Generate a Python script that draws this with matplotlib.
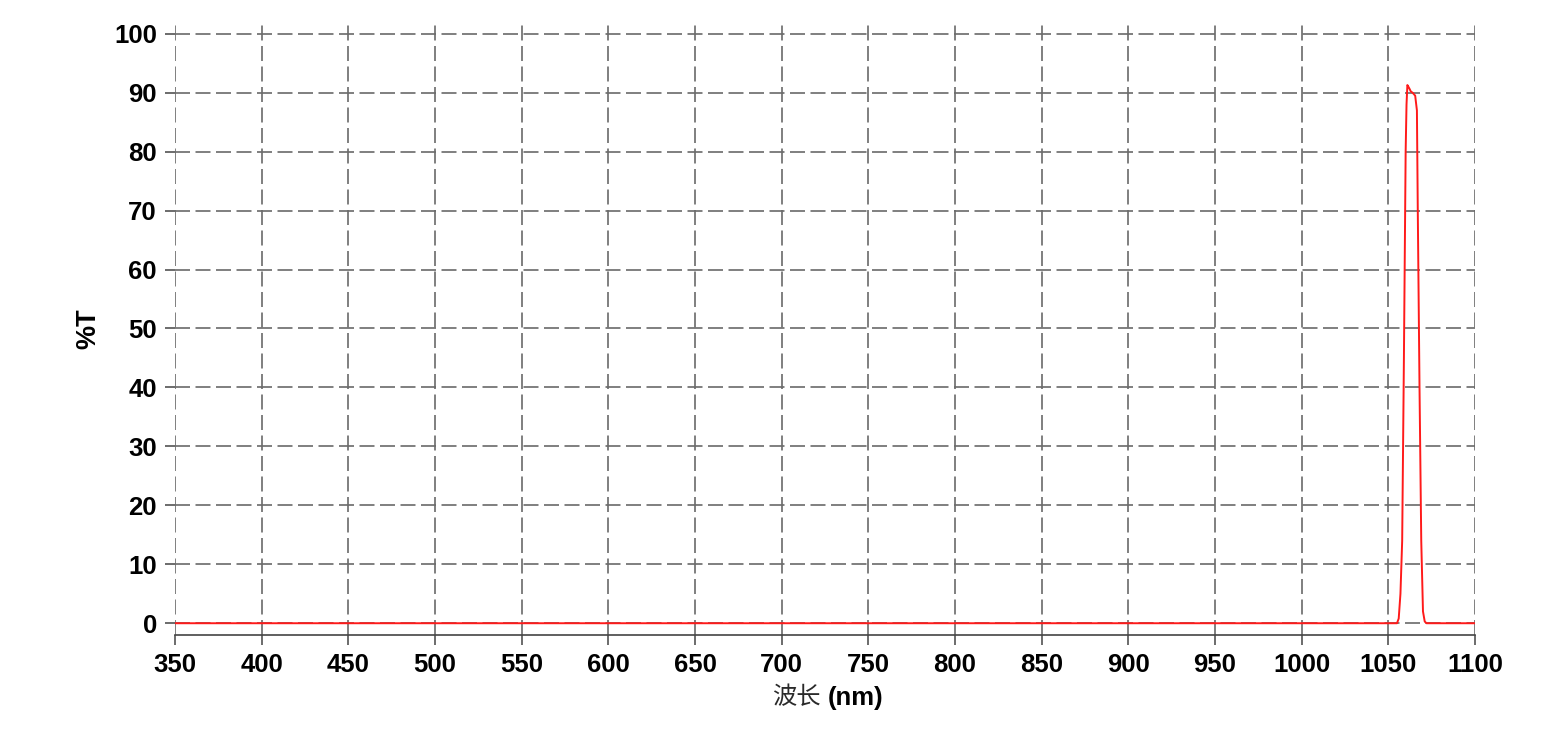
import numpy as np
import matplotlib
matplotlib.use('Agg')
import matplotlib.pyplot as plt

plt.rcParams['font.family'] = ['Liberation Sans', 'Noto Sans CJK SC', 'DejaVu Sans']

# transmission spectrum
wavelength = [350, 1055, 1056, 1057, 1058, 1059, 1060, 1060.5, 1061, 1062, 1063,
              1064, 1065.5, 1066.5, 1067, 1068, 1069, 1070, 1071, 1072, 1100]
transmission = [0, 0, 0.8, 5, 14, 45, 80, 88, 91.3, 90.8, 90.2,
                90, 89.5, 87, 70, 40, 14, 2, 0.3, 0, 0]
x_ticks = list(range(350, 1101, 50))
y_ticks = list(range(0, 101, 10))

fig = plt.figure(figsize=(15.5, 7.3), dpi=100)
ax = fig.add_axes([0.1129, 0.1301, 0.8387, 0.8398])

ax.plot(wavelength, transmission, color='#ff1a1a', lw=1.4, zorder=3)

ax.set_xlim(350, 1100)
ax.set_ylim(-2, 102)
ax.set_xticks(x_ticks)
ax.set_yticks(y_ticks)

ax.grid(True, color='#6a6a6a', lw=1.2, linestyle=(0, (9, 3.3)))
for s in ['top', 'right', 'left']:
    ax.spines[s].set_visible(False)
ax.spines['bottom'].set_color('#444444')
ax.spines['bottom'].set_linewidth(1.2)

ax.tick_params(axis='both', direction='out', length=7, width=1.1, color='#444444',
               labelsize=18.5, pad=6)
for lbl in ax.get_xticklabels() + ax.get_yticklabels():
    lbl.set_fontweight('bold')

# x label: chinese part regular, unit part bold
ax.annotate('波长', xy=(0.5, 0), xycoords='axes fraction', xytext=(-3, -45),
            textcoords='offset points', ha='right', va='center',
            fontsize=17.5, color='#2a2a2a', family=['Noto Sans CJK SC', 'DejaVu Sans'])
ax.annotate('(nm)', xy=(0.5, 0), xycoords='axes fraction', xytext=(2, -45),
            textcoords='offset points', ha='left', va='center',
            fontsize=18.5, fontweight='bold')
ax.set_ylabel('%T', fontsize=19.5, fontweight='bold', labelpad=9)

fig.savefig('out.png', dpi=100)
